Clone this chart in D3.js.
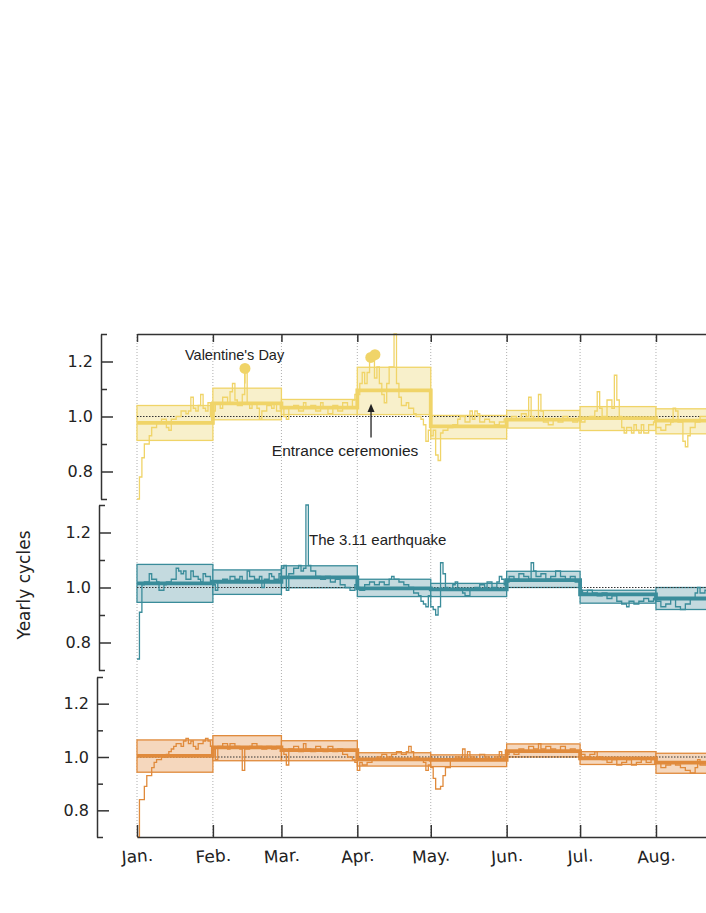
<!DOCTYPE html>
<html><head><meta charset="utf-8">
<script src="https://cdn.jsdelivr.net/npm/d3@7"></script>
<style>body{margin:0;background:#fff}</style>
</head><body><svg id="c" width="706" height="913"></svg>
<script>
// ---------- DATA ----------
const monthLabels = ["Jan.","Feb.","Mar.","Apr.","May.","Jun.","Jul.","Aug."];
const yTickLabels = ["0.8","1.0","1.2"];

// daily step series as [dayOfYear, value] change points
const yellowDaily = [[0,0.70],[1,0.78],[2,0.85],[3,0.90],[5,0.93],[6,0.96],[8,0.98],[10,0.99],[12,0.96],[13,0.95],[14,0.99],[16,1.00],[18,1.02],[20,1.01],[21,1.02],[22,1.07],[23,1.03],[24,1.02],[25,1.04],[26,1.08],[27,1.03],[28,1.02],[29,1.05],[30,1.00],
 [31,1.02],[32,1.05],[34,1.03],[35,1.07],[37,1.05],[38,1.09],[39,1.12],[40,1.06],[41,1.04],[43,1.08],[44,1.16],[45,1.05],[46,1.03],[47,1.05],[49,1.03],[50,0.99],[51,1.02],[53,1.04],[55,1.03],[56,1.05],[57,1.02],
 [59,1.03],[60,1.00],[61,0.99],[62,1.03],[64,1.04],[66,1.02],[68,1.05],[69,1.03],[71,1.04],[73,1.02],[75,1.05],[76,1.03],[78,1.01],[80,1.04],[82,1.02],[84,1.05],[86,1.03],[88,1.06],[89,1.08],
 [90,1.08],[91,1.12],[92,1.16],[93,1.12],[94,1.16],[95,1.21],[96,1.22],[97,1.14],[98,1.18],[99,1.12],[100,1.08],[101,1.05],[102,1.12],[103,1.18],[105,1.30],[106,1.12],[107,1.07],[108,1.04],[110,1.05],[111,1.03],[113,1.01],[114,1.00],[116,0.99],[117,0.97],[118,0.91],[119,0.95],
 [120,0.93],[121,0.95],[122,0.86],[123,0.84],[124,0.94],[125,0.95],[127,0.96],[129,0.97],[131,0.99],[132,1.00],[134,0.98],[136,1.02],[137,0.99],[138,1.02],[139,1.01],[140,0.98],[142,0.99],[144,0.98],[146,0.97],[148,0.98],[150,0.99],
 [151,0.99],[153,1.00],[155,0.99],[157,1.01],[159,1.00],[160,1.07],[161,1.00],[162,0.99],[164,1.08],[165,1.02],[166,0.98],[168,0.97],[170,0.99],[172,0.98],[174,1.00],[176,0.99],[178,0.98],[180,0.99],
 [181,0.98],[183,0.99],[185,1.00],[187,1.02],[188,1.09],[189,1.03],[190,1.00],[192,1.06],[194,1.03],[195,1.15],[196,1.06],[197,1.00],[198,0.96],[199,0.94],[200,0.96],[202,0.94],[203,0.97],[204,0.95],[205,0.94],[206,0.97],[207,0.94],[209,0.97],[211,0.98],
 [212,0.96],[214,0.95],[216,0.97],[218,0.98],[219,1.03],[220,1.02],[221,0.98],[223,0.91],[224,0.89],[225,0.93],[226,0.96],[228,0.98],[230,1.00],[232,1.00],[236,1.00]];
const yellowMonthLow  = [0.913,0.988,1.007,1.007,0.919,0.958,0.949,0.937];
const yellowMonthHigh = [1.040,1.103,1.062,1.179,1.004,1.022,1.036,1.028];
const yellowMonthMean = [0.977,1.048,1.032,1.095,0.964,0.989,0.994,0.985];

const tealDaily = [[0,0.74],[1,0.91],[2,1.01],[3,1.02],[5,1.05],[6,1.03],[8,1.02],[9,0.99],[11,1.01],[12,1.02],[14,1.03],[16,1.07],[17,1.06],[18,1.05],[19,1.06],[20,1.03],[22,1.06],[23,1.04],[25,1.03],[26,1.02],[27,1.05],[28,1.04],[30,1.02],
 [31,1.01],[32,0.99],[33,1.02],[35,1.03],[37,1.02],[38,1.04],[40,1.03],[42,1.04],[43,1.02],[45,1.06],[46,1.04],[48,1.03],[50,1.04],[51,1.00],[52,1.03],[54,1.05],[55,1.04],[56,1.03],[58,1.05],
 [59,1.07],[60,1.08],[61,0.99],[62,1.05],[64,1.07],[66,1.08],[67,1.06],[68,1.07],[69,1.30],[70,1.08],[71,1.06],[73,1.04],[75,1.03],[77,1.04],[79,1.02],[81,1.03],[83,1.01],[85,1.00],[87,0.99],[89,1.01],
 [90,1.00],[91,0.99],[93,1.01],[95,1.02],[97,1.01],[99,1.02],[101,1.01],[103,1.03],[104,1.04],[105,1.03],[107,1.02],[109,1.01],[111,1.00],[113,0.98],[115,0.97],[116,0.95],[117,0.94],[118,0.93],[119,0.97],
 [120,0.93],[121,0.92],[122,0.90],[123,0.93],[124,1.09],[125,1.05],[126,1.00],[127,0.99],[129,1.01],[130,1.02],[131,0.99],[133,0.98],[134,0.97],[136,0.99],[138,1.00],[140,1.01],[142,1.00],[143,1.02],[145,1.00],[147,1.02],[148,1.04],[149,1.03],[150,1.01],
 [151,1.02],[152,1.04],[154,1.03],[156,1.05],[158,1.04],[160,1.03],[161,1.09],[162,1.06],[163,1.04],[165,1.05],[167,1.03],[169,1.04],[171,1.06],[173,1.04],[175,1.03],[177,1.04],[179,1.02],
 [181,0.99],[182,0.98],[184,0.99],[186,0.98],[188,0.97],[190,0.98],[192,0.96],[194,0.97],[196,0.95],[198,0.94],[200,0.93],[201,0.95],[203,0.94],[205,0.95],[207,0.96],[209,0.95],[211,0.96],
 [212,0.95],[214,0.93],[216,0.94],[218,0.96],[220,0.93],[222,0.92],[224,0.94],[226,0.96],[228,0.98],[229,1.00],[230,0.98],[232,0.99],[236,0.99]];
const tealMonthLow  = [0.946,0.975,0.999,0.967,0.967,1.000,0.943,0.920];
const tealMonthHigh = [1.084,1.064,1.079,1.030,1.015,1.059,0.990,1.000];
const tealMonthMean = [1.015,1.021,1.037,0.997,0.993,1.027,0.975,0.960];

const orangeDaily = [[0,0.70],[1,0.84],[3,0.89],[4,0.93],[6,0.96],[7,0.98],[8,0.99],[10,1.00],[12,1.01],[13,1.02],[14,1.03],[15,1.04],[16,1.05],[18,1.04],[19,1.06],[20,1.07],[21,1.05],[22,1.06],[23,1.04],[24,1.03],[25,1.05],[27,1.06],[28,1.07],[29,1.06],[30,1.04],
 [31,1.03],[32,0.99],[33,1.04],[35,1.05],[37,1.03],[38,1.05],[40,1.04],[42,1.03],[43,0.95],[44,1.03],[46,1.04],[47,1.05],[49,1.04],[51,1.03],[53,1.04],[55,1.03],[57,1.04],
 [59,1.03],[60,1.01],[61,0.97],[62,1.03],[64,1.04],[66,1.02],[68,1.05],[69,1.03],[71,1.02],[73,1.04],[75,1.03],[76,1.02],[78,1.04],[80,1.02],[82,1.03],[84,1.01],[86,1.00],[88,0.99],[89,0.98],
 [90,0.95],[91,0.98],[92,0.97],[94,0.98],[96,0.99],[98,1.00],[100,1.01],[102,1.00],[104,1.01],[106,1.02],[108,1.01],[110,1.02],[111,1.04],[112,1.02],[113,1.00],[115,0.99],[117,0.98],[118,0.95],[119,0.97],
 [120,0.96],[121,0.92],[122,0.88],[124,0.89],[125,0.93],[126,0.96],[128,0.99],[130,1.00],[132,0.99],[133,1.03],[134,1.00],[135,1.02],[136,1.00],[138,0.99],[140,1.01],[142,1.00],[144,0.99],[146,1.00],[148,1.02],[149,1.00],[150,0.99],
 [151,1.01],[152,1.02],[154,1.01],[156,1.03],[158,1.02],[160,1.04],[162,1.03],[164,1.05],[165,1.03],[167,1.04],[169,1.03],[171,1.02],[173,1.04],[175,1.02],[177,1.03],[179,1.02],
 [181,1.01],[183,1.00],[185,1.01],[187,1.02],[188,1.00],[190,0.99],[192,0.98],[194,0.99],[196,0.97],[198,0.98],[200,0.99],[202,0.97],[204,0.98],[206,0.99],[208,0.98],[210,0.99],
 [212,0.98],[214,0.96],[216,0.97],[218,0.98],[220,0.97],[222,0.96],[224,0.95],[226,0.94],[228,0.96],[229,0.99],[230,0.97],[232,0.97],[236,0.97]];
const orangeMonthLow  = [0.943,0.986,0.986,0.966,0.964,1.000,0.972,0.939];
const orangeMonthHigh = [1.064,1.080,1.061,1.016,1.008,1.049,1.020,1.014];
const orangeMonthMean = [1.004,1.036,1.026,0.991,0.989,1.022,0.995,0.979];

// annotation anchors: [dayOfYear, value]
const valentineDot = [44.1, 1.175];
const entranceDots = [[95.5, 1.215],[97.2, 1.225]];

// ---------- LAYOUT ----------
const svg = d3.select("#c");
const day0 = new Date(Date.UTC(2011,0,1));
const dayDate = d => new Date(day0.getTime() + d*86400000);
const x = d3.scaleUtc().domain([day0, new Date(Date.UTC(2012,0,1))]).range([137, 137+365*2.448]);
const monthStarts = d3.utcMonth.range(day0, new Date(Date.UTC(2011,8,1)));

const panels = [
  {daily: yellowDaily, low: yellowMonthLow, high: yellowMonthHigh, mean: yellowMonthMean,
   stroke:"#f0d468", fill:"#f8f0cb", range:[499,334], spineX:101},
  {daily: tealDaily, low: tealMonthLow, high: tealMonthHigh, mean: tealMonthMean,
   stroke:"#3a8c9a", fill:"#c4dadf", range:[670,505], spineX:99},
  {daily: orangeDaily, low: orangeMonthLow, high: orangeMonthHigh, mean: orangeMonthMean,
   stroke:"#e08a3b", fill:"#f5d7bd", range:[837,677], spineX:97}
];
panels.forEach(p => p.y = d3.scaleLinear().domain([0.7,1.3]).range(p.range));

const topY = 334, bottomY = 837;

// vertical dotted grid
svg.append("g").selectAll("line").data(monthStarts).join("line")
  .attr("x1", d=>x(d)).attr("x2", d=>x(d)).attr("y1", topY).attr("y2", bottomY)
  .attr("stroke", "#9a9a9a").attr("stroke-width", 0.8).attr("stroke-dasharray", "1,2");

const stepLine = d3.line().curve(d3.curveStepAfter);

panels.forEach((p, pi) => {
  const g = svg.append("g");
  const y = p.y;
  g.selectAll("rect").data(monthStarts).join("rect")
    .attr("x", d=>x(d)).attr("width", d=>x(d3.utcMonth.offset(d,1))-x(d))
    .attr("y", (d,i)=>y(p.high[i])).attr("height", (d,i)=>y(p.low[i])-y(p.high[i]))
    .attr("fill", p.fill).attr("stroke", p.stroke).attr("stroke-width", 1.3);
  g.append("line").attr("x1", x.range()[0]).attr("x2", x.range()[1])
    .attr("y1", y(1)).attr("y2", y(1))
    .attr("stroke", "#333").attr("stroke-width", 1).attr("stroke-dasharray", "1.5,1.5");
  g.append("path").attr("d", stepLine(p.daily.map(d=>[x(dayDate(d[0])), y(d[1])])))
    .attr("fill","none").attr("stroke", p.stroke).attr("stroke-width", 1.3);
  const mpts = monthStarts.map((d,i)=>[x(d), y(p.mean[i])]);
  mpts.push([x(d3.utcMonth.offset(monthStarts[monthStarts.length-1],1)), y(p.mean[p.mean.length-1])]);
  g.append("path").attr("d", stepLine(mpts))
    .attr("fill","none").attr("stroke", p.stroke).attr("stroke-width", 3.8);

  const ax = d3.axisLeft(y).tickValues([0.7,0.8,0.9,1.0,1.1,1.2,1.3])
    .tickFormat(v => { const s = v.toFixed(1); return yTickLabels.includes(s) ? s : ""; })
    .tickSizeOuter(0).tickSizeInner(-12).tickPadding(8);
  const ag = svg.append("g").attr("transform", `translate(${p.spineX},0)`).call(ax);
  ag.select(".domain").attr("stroke","#333").attr("stroke-width",1.5);
  ag.selectAll(".tick line").attr("stroke","#333").attr("stroke-width",1.5)
    .attr("x2", v => yTickLabels.includes(v.toFixed(1)) ? 12 : 6);
  ag.selectAll(".tick text").attr("font-family","DejaVu Sans, sans-serif").attr("font-size",16).attr("fill","#222");
});

// top frame
const topAx = d3.axisTop(x).tickValues(monthStarts).tickFormat("").tickSizeInner(-8).tickSizeOuter(0);
const tg = svg.append("g").attr("transform",`translate(0,${topY})`).call(topAx);
tg.select(".domain").attr("stroke","#333").attr("stroke-width",1.5);
tg.selectAll(".tick line").attr("stroke","#333").attr("stroke-width",1.5);

// bottom axis
const botAx = d3.axisBottom(x).tickValues(monthStarts).tickFormat((d,i)=>monthLabels[i])
  .tickSizeInner(-12).tickSizeOuter(0).tickPadding(13);
const bg = svg.append("g").attr("transform",`translate(0,${bottomY})`).call(botAx);
bg.select(".domain").attr("stroke","#333").attr("stroke-width",1.5);
bg.selectAll(".tick line").attr("stroke","#333").attr("stroke-width",1.5);
bg.selectAll(".tick text").attr("font-family","DejaVu Sans, sans-serif").attr("font-size",17).attr("fill","#222")
  .attr("transform","rotate(-4,0,22)");

// y label
svg.append("text").attr("transform","translate(30,585) rotate(-90)")
  .attr("text-anchor","middle").attr("font-family","DejaVu Sans, sans-serif").attr("font-size",17).attr("fill","#222")
  .text("Yearly cycles");

// annotations
const py = panels[0].y, ty = panels[1].y;
svg.append("line").attr("x1", x(dayDate(valentineDot[0]))).attr("x2", x(dayDate(valentineDot[0])))
  .attr("y1", py(valentineDot[1])).attr("y2", py(1.12)).attr("stroke", panels[0].stroke).attr("stroke-width",1.3);
svg.append("circle").attr("cx", x(dayDate(valentineDot[0]))).attr("cy", py(valentineDot[1])).attr("r",5.5)
  .attr("fill","#f0d468");
entranceDots.forEach(d => svg.append("circle").attr("cx", x(dayDate(d[0]))).attr("cy", py(d[1])).attr("r",5.5).attr("fill","#f0d468"));

const annFont = "Liberation Sans, Arial, sans-serif";
svg.append("text").attr("x", x(dayDate(19.6))).attr("y", py(1.207)).attr("font-family",annFont).attr("font-size",14.5).attr("fill","#222").text("Valentine's Day");
svg.append("text").attr("x", x(dayDate(85))).attr("y", py(0.855)).attr("text-anchor","middle").attr("font-family",annFont).attr("font-size",15.5).attr("fill","#222").text("Entrance ceremonies");
svg.append("text").attr("x", x(dayDate(70.3))).attr("y", ty(1.155)).attr("font-family",annFont).attr("font-size",15).attr("fill","#222").text("The 3.11 earthquake");

const ax0 = x(dayDate(95.6));
svg.append("line").attr("x1", ax0).attr("x2", ax0).attr("y1", py(0.924)).attr("y2", py(1.025))
  .attr("stroke","#222").attr("stroke-width",1.3);
svg.append("path").attr("d", d3.line()([[ax0, py(1.046)],[ax0-3.5, py(1.016)],[ax0+3.5, py(1.016)]]))
  .attr("fill","#222");
</script></body></html>
